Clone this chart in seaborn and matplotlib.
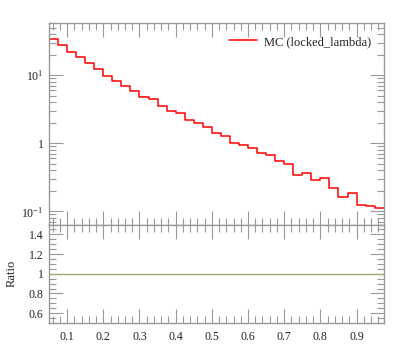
import numpy as np
import pandas as pd
import matplotlib
matplotlib.use("Agg")
import matplotlib.pyplot as plt
import seaborn as sns
from matplotlib.ticker import FixedLocator, FixedFormatter, MultipleLocator, NullFormatter, LogLocator

# ---- data ----
bin_edges = [0.05 + 0.025 * i for i in range(38)]
mc_values = [34.2, 28.2, 22.0, 18.4, 15.0, 12.3, 9.67, 8.34, 6.89, 5.94,
             4.85, 4.48, 3.57, 3.01, 2.82, 2.18, 1.97, 1.72, 1.42, 1.28,
             1.02, 0.935, 0.844, 0.728, 0.667, 0.555, 0.491, 0.342, 0.370, 0.289,
             0.309, 0.220, 0.161, 0.188, 0.122, 0.119, 0.111]
series_label = "MC (locked_lambda)"
x_ticks = [0.1, 0.2, 0.3, 0.4, 0.5, 0.6, 0.7, 0.8, 0.9]
x_tick_labels = ["0.1", "0.2", "0.3", "0.4", "0.5", "0.6", "0.7", "0.8", "0.9"]
y_ticks = [0.1, 1, 10]
y_tick_labels = [r"$10^{-1}$", "1", r"$10^{1}$"]
ratio_ticks = [0.6, 0.8, 1.0, 1.2, 1.4]
ratio_tick_labels = ["0.6", "0.8", "1", "1.2", "1.4"]

sns.set_theme(style="white")
plt.rcParams['font.family'] = ['Liberation Serif', 'DejaVu Serif']
plt.rcParams['mathtext.fontset'] = 'custom'
plt.rcParams['mathtext.rm'] = 'Liberation Serif'
plt.rcParams['mathtext.it'] = 'Liberation Serif:italic'

W, H = 397, 358
fig = plt.figure(figsize=(W / 100, H / 100), dpi=100)
L, R = 49 / W, 383.7 / W
top_ax = fig.add_axes([L, 1 - 224.5 / H, R - L, (224.5 - 23.3) / H])
rat_ax = fig.add_axes([L, 1 - 323 / H, R - L, (323 - 224.5) / H])

# step data
xs = list(bin_edges)
ys = list(mc_values) + [mc_values[-1]]
df = pd.DataFrame({"x": xs, "y": ys})
sns.lineplot(data=df, x="x", y="y", ax=top_ax, drawstyle="steps-post",
             color="#ff0000", lw=1.1, label=series_label, estimator=None)
top_ax.set_yscale("log")
top_ax.set_ylim(0.064, 58)
top_ax.set_xlim(0.05, 0.975)

ratio = [v / v for v in mc_values]
dfr = pd.DataFrame({"x": xs, "y": list(ratio) + [ratio[-1]]})
sns.lineplot(data=dfr, x="x", y="y", ax=rat_ax, drawstyle="steps-post",
             color="#a8a870", lw=1.0, estimator=None, legend=False)
rat_ax.set_ylim(0.5, 1.5)
rat_ax.set_xlim(0.05, 0.975)

spine_c = "#999999"
tick_c = "#999999"
for ax in (top_ax, rat_ax):
    for s in ax.spines.values():
        s.set_color(spine_c)
        s.set_linewidth(1.0)
    ax.set_xlabel("")
    ax.set_ylabel("")
    ax.xaxis.set_major_locator(FixedLocator(x_ticks))
    ax.xaxis.set_minor_locator(MultipleLocator(0.02))
    ax.tick_params(which="both", direction="in", top=True, right=True,
                   bottom=True, left=True, color=tick_c, width=0.8,
                   labelsize=8.5, labelcolor="#222222", pad=4)
    ax.tick_params(which="major", length=10)
    ax.tick_params(which="minor", length=5)

top_ax.xaxis.set_major_formatter(NullFormatter())
top_ax.yaxis.set_major_locator(FixedLocator(y_ticks))
top_ax.yaxis.set_major_formatter(FixedFormatter(y_tick_labels))
top_ax.yaxis.set_minor_locator(LogLocator(base=10, subs=np.arange(2, 10)))
top_ax.yaxis.set_minor_formatter(NullFormatter())

rat_ax.xaxis.set_major_formatter(FixedFormatter(x_tick_labels))
rat_ax.yaxis.set_major_locator(FixedLocator(ratio_ticks))
rat_ax.yaxis.set_major_formatter(FixedFormatter(ratio_tick_labels))
rat_ax.yaxis.set_minor_locator(MultipleLocator(0.05))
rat_ax.set_ylabel("Ratio", fontsize=9, color="#222222")
rat_ax.yaxis.set_label_coords(-0.094, 0.5)
rat_ax.tick_params(axis="x", pad=6)

leg = top_ax.legend(loc="upper right", frameon=False, fontsize=9,
                    handlelength=2.2, handletextpad=0.6,
                    borderaxespad=0.6)
for t in leg.get_texts():
    t.set_color("#222222")

fig.savefig("out.png", dpi=100)
